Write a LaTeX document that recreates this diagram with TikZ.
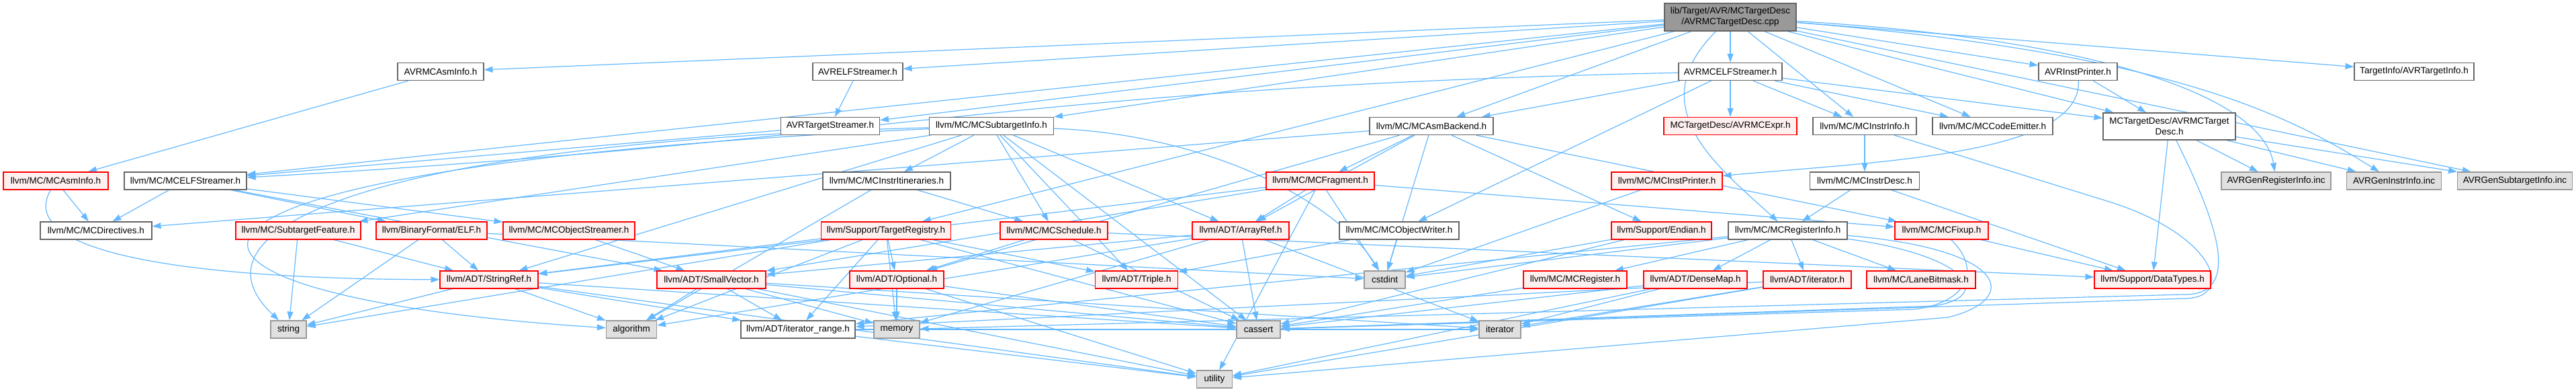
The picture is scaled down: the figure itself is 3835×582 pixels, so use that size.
\documentclass[tikz,border=0pt]{standalone}
\usepackage{fontspec}
\setmainfont{Liberation Sans}
\usetikzlibrary{arrows.meta, positioning, backgrounds}

\definecolor{edgeblue}{HTML}{63B8FF}
\definecolor{darkline}{HTML}{666666}
\definecolor{lightline}{HTML}{999999}
\definecolor{sysfill}{HTML}{E0E0E0}
\definecolor{redline}{HTML}{FF0000}
\definecolor{redfill}{HTML}{FFF0F0}

\begin{document}
\begin{tikzpicture}[
        x=1pt, y=-1pt,
        file/.style={draw=darkline, fill=white, line width=1.3pt, minimum height=26pt, inner sep=0pt, font=\fontsize{13.5}{16}\selectfont},
        redfile/.style={file, draw=redline, fill=redfill},
        sysfile/.style={file, draw=lightline, fill=sysfill},
        rootfile/.style={file, fill=lightline, align=center, minimum height=41pt},
        dep/.style={-{Stealth[length=13pt, width=9pt, inset=0.5pt]}, draw=edgeblue, line width=1.2pt}
    ]
        \useasboundingbox (0,0) rectangle (3835,582);

        % top row
        \node[rootfile, minimum width=196pt] (cpp) at (2576,25.5) {lib/Target/AVR/MCTargetDesc\\/AVRMCTargetDesc.cpp};

        \node[file, minimum width=128pt] (avrasm) at (656,106.5) {AVRMCAsmInfo.h};
        \node[file, minimum width=134pt] (avrelf) at (1277,106.5) {AVRELFStreamer.h};
        \node[file, minimum width=154pt] (avrmcelf) at (2576,106.5) {AVRMCELFStreamer.h};
        \node[file, minimum width=117pt] (avrinst) at (3093.5,106.5) {AVRInstPrinter.h};
        \node[file, minimum width=178pt] (avrtinfo) at (3594,106.5) {TargetInfo/AVRTargetInfo.h};

        \node[file, minimum width=147pt] (avrtstr) at (1236,187.5) {AVRTargetStreamer.h};
        \node[file, minimum width=185pt] (subinfo) at (1476,187.5) {llvm/MC/MCSubtargetInfo.h};
        \node[file, minimum width=184pt] (asmback) at (2131,187.5) {llvm/MC/MCAsmBackend.h};
        \node[redfile, minimum width=198pt] (mcexpr) at (2576,187.5) {MCTargetDesc/AVRMCExpr.h};
        \node[file, minimum width=154pt] (instrinfo) at (2776,187.5) {llvm/MC/MCInstrInfo.h};
        \node[file, minimum width=179pt] (codeemit) at (2966.5,187.5) {llvm/MC/MCCodeEmitter.h};
        \node[file, align=center, minimum width=197pt, minimum height=40pt] (tdesc) at (3229.5,188) {MCTargetDesc/AVRMCTarget\\Desc.h};

        \node[redfile, minimum width=156pt] (asminfo) at (83,269) {llvm/MC/MCAsmInfo.h};
        \node[file, minimum width=182pt] (elfstr) at (276,269) {llvm/MC/MCELFStreamer.h};
        \node[file, minimum width=190pt] (itin) at (1320,269) {llvm/MC/MCInstrItineraries.h};
        \node[redfile, minimum width=161pt] (frag) at (1965.5,269) {llvm/MC/MCFragment.h};
        \node[redfile, minimum width=165pt] (instpr) at (2481.5,269) {llvm/MC/MCInstPrinter.h};
        \node[file, minimum width=163pt] (instrdesc) at (2776,269) {llvm/MC/MCInstrDesc.h};
        \node[sysfile, minimum width=163pt] (genreg) at (3388.5,269) {AVRGenRegisterInfo.inc};
        \node[sysfile, minimum width=141pt] (geninstr) at (3564,269) {AVRGenInstrInfo.inc};
        \node[sysfile, minimum width=171pt] (gensub) at (3744,269) {AVRGenSubtargetInfo.inc};

        \node[file, minimum width=166pt] (direct) at (143,343) {llvm/MC/MCDirectives.h};
        \node[redfile, minimum width=186pt] (subfeat) at (444,343) {llvm/MC/SubtargetFeature.h};
        \node[redfile, minimum width=165pt] (elf) at (642.5,343) {llvm/BinaryFormat/ELF.h};
        \node[redfile, minimum width=196pt] (objstr) at (847,343) {llvm/MC/MCObjectStreamer.h};
        \node[redfile, minimum width=193pt] (treg) at (1319,343) {llvm/Support/TargetRegistry.h};
        \node[redfile, minimum width=160pt] (sched) at (1569,343) {llvm/MC/MCSchedule.h};
        \node[redfile, minimum width=144pt] (arrayref) at (1847,343) {llvm/ADT/ArrayRef.h};
        \node[file, minimum width=178pt] (objwr) at (2083,343) {llvm/MC/MCObjectWriter.h};
        \node[redfile, minimum width=149pt] (endian) at (2473.5,343) {llvm/Support/Endian.h};
        \node[file, minimum width=177pt] (reginfo) at (2661.5,343) {llvm/MC/MCRegisterInfo.h};
        \node[redfile, minimum width=139pt] (fixup) at (2890.5,343) {llvm/MC/MCFixup.h};

        \node[redfile, minimum width=146pt] (strref) at (728,416) {llvm/ADT/StringRef.h};
        \node[redfile, minimum width=162pt] (smallvec) at (1059,416) {llvm/ADT/SmallVector.h};
        \node[redfile, minimum width=140pt] (optional) at (1335,416) {llvm/ADT/Optional.h};
        \node[redfile, minimum width=123pt] (triple) at (1692,416) {llvm/ADT/Triple.h};
        \node[sysfile, minimum width=61pt] (cstdint) at (2061.5,416) {cstdint};
        \node[redfile, minimum width=154pt] (mcreg) at (2345,416) {llvm/MC/MCRegister.h};
        \node[redfile, minimum width=154pt] (densemap) at (2524,416) {llvm/ADT/DenseMap.h};
        \node[redfile, minimum width=131pt] (adtiter) at (2690.5,416) {llvm/ADT/iterator.h};
        \node[redfile, minimum width=162pt] (lanemask) at (2860,416) {llvm/MC/LaneBitmask.h};
        \node[redfile, minimum width=173pt] (datatypes) at (3204.5,416) {llvm/Support/DataTypes.h};

        \node[sysfile, minimum width=53pt] (string) at (429.5,490) {string};
        \node[sysfile, minimum width=75pt] (algorithm) at (940,490) {algorithm};
        \node[file, minimum width=170pt] (itrange) at (1188,490) {llvm/ADT/iterator\_range.h};
        \node[sysfile, minimum width=68pt] (memory) at (1335,490) {memory};
        \node[sysfile, minimum width=65pt] (cassert) at (1873.5,490) {cassert};
        \node[sysfile, minimum width=62pt] (iterator) at (2233,490) {iterator};

        \node[sysfile, minimum width=53pt] (utility) at (1808,564) {utility};

        \begin{scope}[on background layer]
        % includes of the cpp file
        \draw[dep] (cpp) -- (avrasm);
        \draw[dep] (cpp) -- (avrelf);
        \draw[dep] (cpp) -- (avrmcelf);
        \draw[dep] (cpp) -- (avrinst);
        \draw[dep] (cpp) -- (avrtinfo);
        \draw[dep] (cpp) -- (avrtstr);
        \draw[dep] (cpp) -- (subinfo);
        \draw[dep] (cpp) -- (asmback);
        \draw[dep] (cpp) -- (instrinfo);
        \draw[dep] (cpp) -- (codeemit);
        \draw[dep] (cpp) -- (tdesc);
        \draw[dep] (cpp) -- (elfstr);
        \draw[dep] (cpp) .. controls (2440,160) and (2560,250) .. (reginfo);
        \draw[dep] (cpp) -- (treg);
        \draw[dep] (cpp) .. controls (3150,60) and (3370,150) .. (genreg);
        \draw[dep] (cpp) .. controls (3250,80) and (3420,180) .. (geninstr);
        \draw[dep] (cpp) -- (gensub);

        % AVR headers
        \draw[dep] (avrasm) -- (asminfo);
        \draw[dep] (avrelf) -- (avrtstr);
        \draw[dep] (avrtstr) -- (elfstr);
        \draw[dep] (avrmcelf) -- (mcexpr);
        \draw[dep] (avrmcelf) -- (tdesc);
        \draw[dep] (avrmcelf) -- (asmback);
        \draw[dep] (avrmcelf) -- (codeemit);
        \draw[dep] (avrmcelf) .. controls (1500,130) and (1330,210) .. (elfstr);
        \draw[dep] (avrmcelf) -- (instrinfo);
        \draw[dep] (avrmcelf) -- (objwr);
        \draw[dep] (avrinst) -- (tdesc);
        \draw[dep] (avrinst) .. controls (3100,230) and (2800,240) .. (instpr);
        \draw[dep] (tdesc) -- (genreg);
        \draw[dep] (tdesc) -- (geninstr);
        \draw[dep] (tdesc) -- (gensub);
        \draw[dep] (tdesc) -- (datatypes);
        \draw[dep] (tdesc) .. controls (3300,330) and (3340,440) .. (3250,438) -- (memory);

        % llvm/MC headers
        \draw[dep] (subinfo) -- (itin);
        \draw[dep] (subinfo) -- (sched);
        \draw[dep] (subinfo) -- (triple);
        \draw[dep] (subinfo) -- (arrayref);
        \draw[dep] (subinfo) -- (subfeat);
        \draw[dep] (subinfo) -- (strref);
        \draw[dep] (subinfo) .. controls (600,210) and (260,330) .. (string);
        \draw[dep] (subinfo) .. controls (100,250) and (150,440) .. (algorithm);
        \draw[dep] (subinfo) -- (cassert);
        \draw[dep] (subinfo) .. controls (1800,200) and (1990,300) .. (cstdint);
        \draw[dep] (asmback) -- (direct);
        \draw[dep] (asmback) -- (frag);
        \draw[dep] (asmback) -- (arrayref);
        \draw[dep] (asmback) -- (optional);
        \draw[dep] (asmback) -- (endian);
        \draw[dep] (asmback) -- (fixup);
        \draw[dep] (asmback) -- (cstdint);
        \draw[dep] (instrinfo) -- (instrdesc);
        \draw[dep] (instrinfo) -- (3140,300) .. controls (3300,350) and (3330,445) .. (3250,444) -- (cassert);
        \draw[dep] (instrdesc) -- (reginfo);
        \draw[dep] (instrdesc) -- (datatypes);
        \draw[dep] (asminfo) -- (direct);
        \draw[dep] (asminfo) .. controls (20,380) and (300,415) .. (strref);
        \draw[dep] (elfstr) -- (direct);
        \draw[dep] (elfstr) -- (elf);
        \draw[dep] (elfstr) -- (objstr);
        \draw[dep] (elfstr) -- (smallvec);
        \draw[dep] (itin) -- (sched);
        \draw[dep] (itin) -- (algorithm);
        \draw[dep] (frag) -- (arrayref);
        \draw[dep] (frag) -- (smallvec);
        \draw[dep] (frag) -- (strref);
        \draw[dep] (frag) -- (fixup);
        \draw[dep] (frag) -- (cstdint);
        \draw[dep] (frag) -- (utility);
        \draw[dep] (instpr) -- (cstdint);
        \draw[dep] (subfeat) -- (string);
        \draw[dep] (subfeat) -- (strref);
        \draw[dep] (elf) -- (strref);
        \draw[dep] (elf) -- (string);
        \draw[dep] (elf) -- (cstdint);
        \draw[dep] (objstr) -- (smallvec);
        \draw[dep] (treg) -- (optional);
        \draw[dep] (treg) -- (triple);
        \draw[dep] (treg) -- (strref);
        \draw[dep] (treg) -- (itrange);
        \draw[dep] (treg) -- (algorithm);
        \draw[dep] (treg) -- (cassert);
        \draw[dep] (treg) -- (memory);
        \draw[dep] (treg) -- (string);
        \draw[dep] (sched) -- (optional);
        \draw[dep] (sched) -- (cassert);
        \draw[dep] (sched) -- (datatypes);
        \draw[dep] (objwr) -- (cstdint);
        \draw[dep] (objwr) -- (triple);
        \draw[dep] (endian) -- (cstdint);
        \draw[dep] (endian) -- (cassert);
        \draw[dep] (reginfo) -- (densemap);
        \draw[dep] (reginfo) -- (adtiter);
        \draw[dep] (reginfo) -- (lanemask);
        \draw[dep] (reginfo) -- (mcreg);
        \draw[dep] (reginfo) -- (cstdint);
        \draw[dep] (reginfo) .. controls (2930,380) and (2970,440) .. (2880,455) -- (cassert);
        \draw[dep] (reginfo) .. controls (2990,370) and (3010,445) .. (2900,472) -- (utility);
        \draw[dep] (reginfo) -- (itrange);
        \draw[dep] (fixup) -- (datatypes);
        \draw[dep] (fixup) .. controls (2950,400) and (2930,450) .. (2850,460) -- (cassert);
        \draw[dep] (mcreg) -- (cassert);

        % llvm/ADT headers
        \draw[dep] (arrayref) -- (smallvec);
        \draw[dep] (arrayref) -- (algorithm);
        \draw[dep] (arrayref) -- (cassert);
        \draw[dep] (arrayref) -- (memory);
        \draw[dep] (arrayref) -- (iterator);
        \draw[dep] (strref) -- (algorithm);
        \draw[dep] (strref) -- (itrange);
        \draw[dep] (strref) -- (string);
        \draw[dep] (strref) -- (cassert);
        \draw[dep] (strref) -- (utility);
        \draw[dep] (smallvec) -- (algorithm);
        \draw[dep] (smallvec) -- (itrange);
        \draw[dep] (smallvec) -- (utility);
        \draw[dep] (smallvec) -- (memory);
        \draw[dep] (smallvec) -- (cassert);
        \draw[dep] (smallvec) -- (iterator);
        \draw[dep] (optional) -- (memory);
        \draw[dep] (optional) -- (cassert);
        \draw[dep] (optional) -- (utility);
        \draw[dep] (itrange) -- (utility);
        \draw[dep] (itrange) -- (iterator);
        \draw[dep] (densemap) -- (iterator);
        \draw[dep] (densemap) -- (utility);
        \draw[dep] (densemap) -- (cassert);
        \draw[dep] (adtiter) -- (iterator);
        \draw[dep] (adtiter) -- (itrange);
        \draw[dep] (adtiter) -- (utility);
        \end{scope}
    \end{tikzpicture}
\end{document}
